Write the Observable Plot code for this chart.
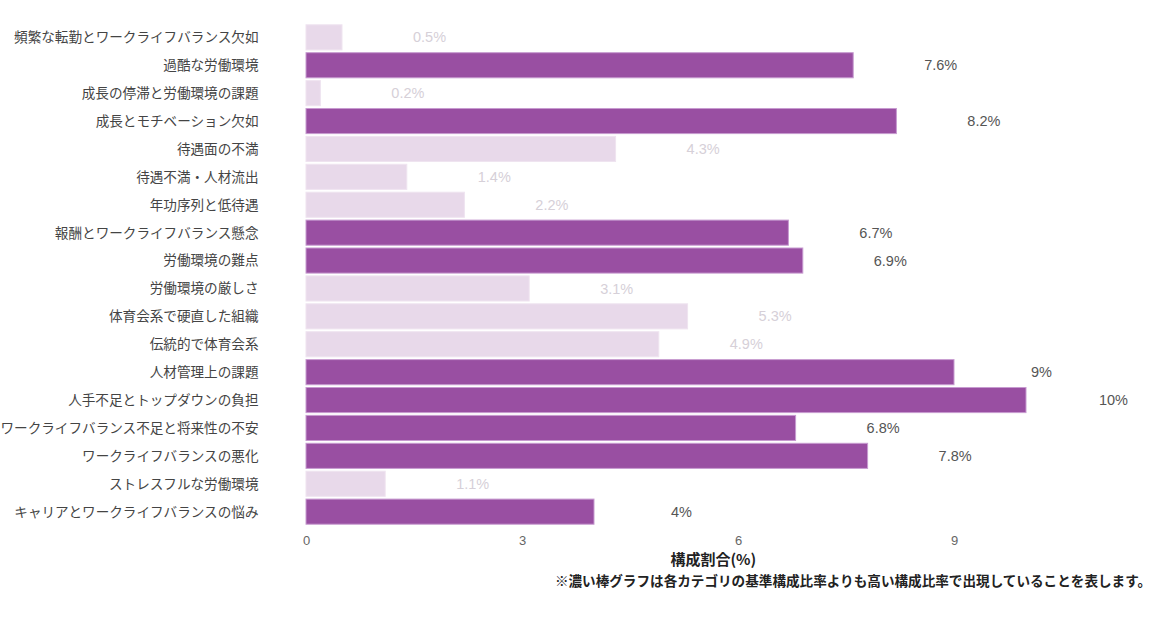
<!DOCTYPE html>
<html><head><meta charset="utf-8">
<script src="https://cdn.jsdelivr.net/npm/d3@7"></script>
<script src="https://cdn.jsdelivr.net/npm/@observablehq/plot@0.6"></script>
<style>
body{margin:0;background:#fff;font-family:"Noto Sans CJK JP","Noto Sans",sans-serif;}
#caption{position:absolute;left:0;width:1151px;top:570px;text-align:right;font-size:13.6px;font-weight:bold;color:#222;}
</style></head>
<body><div id="chart"></div><div id="caption">※濃い棒グラフは各カテゴリの基準構成比率よりも高い構成比率で出現していることを表します。</div>
<script>
const categories = ["頻繁な転勤とワークライフバランス欠如","過酷な労働環境","成長の停滞と労働環境の課題","成長とモチベーション欠如","待遇面の不満","待遇不満・人材流出","年功序列と低待遇","報酬とワークライフバランス懸念","労働環境の難点","労働環境の厳しさ","体育会系で硬直した組織","伝統的で体育会系","人材管理上の課題","人手不足とトップダウンの負担","ワークライフバランス不足と将来性の不安","ワークライフバランスの悪化","ストレスフルな労働環境","キャリアとワークライフバランスの悩み"];
const values = [0.5,7.6,0.2,8.2,4.3,1.4,2.2,6.7,6.9,3.1,5.3,4.9,9,10,6.8,7.8,1.1,4];
const highlight = [false,true,false,true,false,false,false,true,true,false,false,false,true,true,true,true,false,true];
const xTicks = [0,3,6,9];

const data = categories.map((c,i)=>({cat:c, v:values[i], hi:highlight[i]}));
const chart = Plot.plot({
  width:1160, height:571,
  marginLeft:306, marginRight:62, marginTop:22, marginBottom:44,
  style:{fontFamily:'"Noto Sans CJK JP","Noto Sans",sans-serif', background:"#fff"},
  x:{domain:[0,11], ticks:xTicks, label:null},
  y:{domain:categories, padding:0.1, round:false, label:null},
  marks:[
    Plot.barX(data,{y:"cat", x:"v", fill:d=>d.hi?"#994fa2":"#e8d9ea", stroke:d=>d.hi?"#c79bd0":"#efe4f0", strokeWidth:1}),
    Plot.text(data,{y:"cat", x:"v", text:d=>d.v+"%", dx:87, textAnchor:"middle", fill:d=>d.hi?"#555":"#d6d0d8", fontSize:14.5, fontFamily:'"Liberation Sans","Noto Sans CJK JP",sans-serif'}),
    Plot.axisY({tickSize:0, tickPadding:48, fontSize:13.6, color:"#444", label:null}),
    Plot.axisX({ticks:xTicks, tickSize:0, tickPadding:8, fontSize:13, color:"#666", label:null, fontFamily:'"Liberation Sans",sans-serif'}),
    Plot.text(["構成割合(%)"],{frameAnchor:"bottom", x:()=>5.65, dy:37, fontSize:15, fontWeight:"bold", fill:"#222"})
  ]
});
document.getElementById("chart").append(chart);
</script></body></html>
